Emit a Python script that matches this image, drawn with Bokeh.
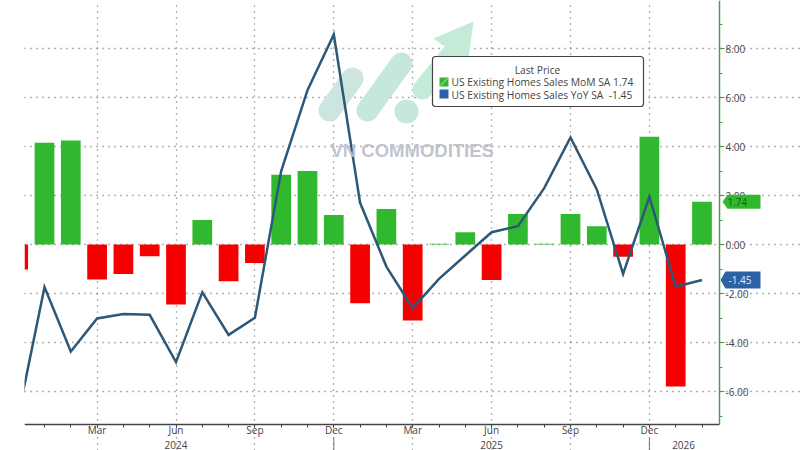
from bokeh.plotting import figure
from bokeh.embed import file_html
from bokeh.resources import INLINE
from bokeh.core.properties import value
from bokeh.models import Range1d, FixedTicker, NumeralTickFormatter, ColumnDataSource

months = ["Dec23","Jan24","Feb24","Mar24","Apr24","May24","Jun24","Jul24","Aug24","Sep24","Oct24","Nov24","Dec24",
          "Jan25","Feb25","Mar25","Apr25","May25","Jun25","Jul25","Aug25","Sep25","Oct25","Nov25","Dec25","Jan26","Feb26"]
mom = [-1.02,4.15,4.25,-1.43,-1.2,-0.48,-2.45,1.0,-1.5,-0.76,2.85,3.0,1.2,
       -2.4,1.45,-3.1,0.03,0.5,-1.45,1.25,0.03,1.25,0.75,-0.5,4.4,-5.8,1.74]
yoy = [-7.0,-1.74,-4.37,-3.02,-2.84,-2.87,-4.8,-1.95,-3.69,-2.99,3.0,6.3,8.57,
       1.7,-0.9,-2.6,-1.4,-0.45,0.5,0.75,2.3,4.37,2.25,-1.2,1.95,-1.72,-1.45]
quarter_labels = {3:"Mar",6:"Jun",9:"Sep",12:"Dec",15:"Mar",18:"Jun",21:"Sep",24:"Dec"}
year_names = ["2024","2025","2026"]
year_pos = [6,18,25.3]
year_breaks = [12,24]
y_major = [-6,-4,-2,0,2,4,6,8]
y_minor = [-7,-5,-3,-1,1,3,5,7,9]
legend_title = "Last Price"
name_mom = "US Existing Homes Sales MoM SA 1.74"
name_yoy = "US Existing Homes Sales YoY SA \u00a0-1.45"

GREEN="#30b82e"; RED="#f50000"; LINE="#2d5877"; BLUE="#2a62a5"; TXT="#444444"; FONT="Open Sans"

def X(px): return (px-17.7)/26.3
def Y(py): return (244-py)/24.5

p = figure(width=800, height=450, frame_width=776, frame_height=450, output_backend="svg", toolbar_location=None,
           x_range=Range1d(X(24),X(800)), y_range=Range1d(Y(450),Y(0)), y_axis_location="right",
           min_border_left=24, min_border_right=0, min_border_top=0, min_border_bottom=0,
           outline_line_color=None, background_fill_color="white")

idx = list(range(len(months)))
src = ColumnDataSource(dict(x=idx, top=mom, bottom=[0]*len(mom), yoy=yoy,
                            color=[GREEN if v>=0 else RED for v in mom]))

# watermark
p.line([X(329),X(352)],[Y(110),Y(78)],line_width=22,line_cap="round",line_color="#cde5e0")
p.line([X(367),X(401)],[Y(110),Y(63)],line_width=22,line_cap="round",line_color="#c6e8db")
p.scatter([X(406)],[Y(111)],size=24,marker="circle",fill_color="#c6e8db",line_color=None)
p.line([X(422),X(452)],[Y(89),Y(52)],line_width=20,line_cap="round",line_color="#c3ebd8")
p.patch([X(473),X(433),X(441),X(468)],[Y(21),Y(38),Y(44),Y(59)],fill_color="#c3ebd8",line_color=None)

p.vbar(x="x",top="top",bottom="bottom",width=0.75,fill_color="color",line_color=None,source=src)
p.line("x","yoy",line_color=LINE,line_width=2.5,line_join="miter",source=src)

p.text([X(330)],[Y(150)],text=["VN COMMODITIES"],text_font=value("Liberation Sans"),text_font_style="bold",
       text_font_size="18.5px",text_color="#b9bcc9",text_alpha=0.9,text_baseline="middle")

# grid
p.xgrid.ticker=FixedTicker(ticks=list(quarter_labels))
p.ygrid.ticker=FixedTicker(ticks=y_major)
p.xgrid.bounds=(Y(424),Y(0))
p.ygrid.bounds=(X(24),X(719))
for g in (p.xgrid[0],p.ygrid[0]):
    g.grid_line_color="#666666"; g.grid_line_dash="1 5"; g.grid_line_width=1.3

# axes
ax=p.xaxis[0]
ax.fixed_location=Y(424)
ax.bounds=(X(24),X(719))
ax.ticker=FixedTicker(ticks=list(quarter_labels),minor_ticks=idx)
ax.major_label_overrides=quarter_labels
ax.axis_line_color="#444444"; ax.axis_line_width=1.5
ax.major_tick_line_color="#444444"; ax.minor_tick_line_color="#444444"
ax.major_tick_in=0; ax.major_tick_out=3; ax.minor_tick_in=0; ax.minor_tick_out=3
ax.major_label_text_font=FONT; ax.major_label_text_font_size="10px"; ax.major_label_text_color=TXT
ax.major_label_standoff=-5

ay=p.yaxis[0]
ay.fixed_location=X(719)
ay.bounds=(Y(424),Y(0))
ay.ticker=FixedTicker(ticks=y_major,minor_ticks=y_minor)
ay.formatter=NumeralTickFormatter(format="0.00")
ay.axis_line_color="#4f9a50"; ay.axis_line_width=1.5
ay.major_tick_line_color="#4f9a50"; ay.minor_tick_line_color="#4f9a50"
ay.major_tick_in=0; ay.major_tick_out=5; ay.minor_tick_in=0; ay.minor_tick_out=3
ay.major_label_text_font=FONT; ay.major_label_text_font_size="10px"; ay.major_label_text_color=TXT
ay.major_label_standoff=1

# year labels and separators
p.text(year_pos,[Y(444)]*3,text=year_names,text_font=value(FONT),text_font_size="10px",text_color=TXT,
       text_align="center",text_baseline="middle")
p.segment(year_breaks,[Y(437)]*2,year_breaks,[Y(450)]*2,line_color="#777777",line_width=1)

# last-value tags
def tag(v,color,tip,body,h,txt,txtcolor,tx):
    hh=h/2/24.5
    p.patch([X(tip),X(body),X(760),X(760),X(body)],[v,v+hh,v+hh,v-hh,v-hh],fill_color=color,line_color=None,level="overlay")
    p.text([X(tx)],[v],text=[txt],text_color=txtcolor,text_font=value(FONT),text_font_size="10px",
           text_baseline="middle",level="overlay")
tag(mom[-1],GREEN,722,727,14,"1.74","#1d5a1d",727)
tag(yoy[-1],BLUE,720,725,17,"-1.45","#e8eef6",728)

# legend panel
p.quad(left=[X(432)],right=[X(643)],top=[Y(56)],bottom=[Y(106)],fill_color="white",line_color="#444444",
       line_width=1.2,border_radius=3,level="overlay")
p.text([X(537)],[Y(69)],text=[legend_title],text_font=value(FONT),text_font_size="10.2px",text_color=TXT,
       text_align="center",text_baseline="middle",level="overlay")
p.quad(left=[X(439)],right=[X(448)],top=[Y(77)],bottom=[Y(86)],fill_color=GREEN,line_color=None,level="overlay")
p.line([X(440),X(447)],[Y(85),Y(78)],line_color="#86d086",line_width=1.5,level="overlay")
p.quad(left=[X(439)],right=[X(448)],top=[Y(89)],bottom=[Y(98)],fill_color=BLUE,line_color=None,level="overlay")
p.text([X(451)],[Y(81.5)],text=[name_mom],text_font=value(FONT),text_font_size="10.3px",text_color=TXT,
       text_baseline="middle",level="overlay")
p.text([X(451)],[Y(94.5)],text=[name_yoy],text_font=value(FONT),text_font_size="10.3px",text_color=TXT,
       text_baseline="middle",level="overlay")

open("out.html","w").write(file_html(p,INLINE))
